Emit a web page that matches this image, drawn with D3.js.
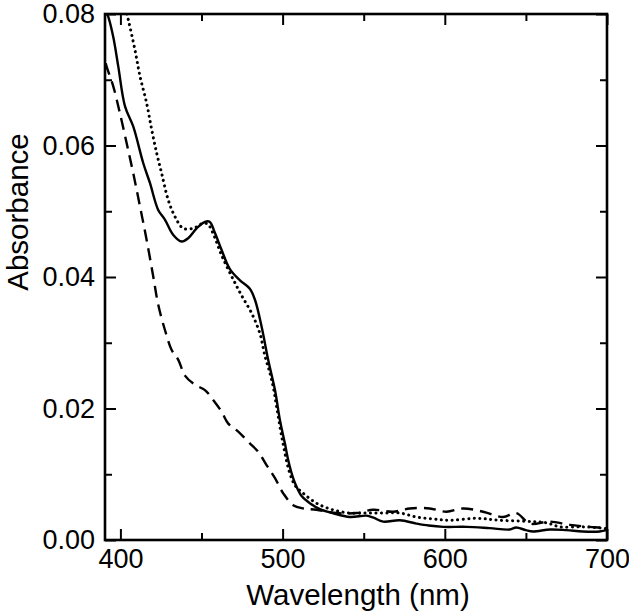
<!DOCTYPE html>
<html>
<head>
<meta charset="utf-8">
<script src="https://cdn.jsdelivr.net/npm/d3@7"></script>
<style>
  html, body { margin: 0; padding: 0; background: #fff; }
  svg { display: block; }
  text { font-family: "Liberation Sans", Arial, Helvetica, sans-serif; fill: #000; }
</style>
</head>
<body>
<svg id="chart" width="629" height="615"></svg>
<script>
// ---- data ----
const solidNm  = [391,392.5,395.6,398.7,402.8,407.9,414.1,418.2,423.3,427.5,432.6,437.8,441.8,447,452.1,455,458.3,462.4,467.5,473.7,479.8,483,487,491.1,495.3,498.3,501.4,503.4,506.5,508.6,512,516.8,523,530.8,541.5,551.7,556,562,572.3,582.5,590,599,613.4,627.7,640,644,650,654.4,665,675,685,695.5,700];
const solidAbs = [0.0805,0.0796,0.0765,0.0720,0.0660,0.0629,0.0573,0.0543,0.0502,0.0487,0.0464,0.0454,0.0459,0.0474,0.0484,0.0484,0.0467,0.0441,0.0412,0.0395,0.0382,0.0365,0.0325,0.0274,0.0228,0.0183,0.0147,0.0122,0.0094,0.0081,0.0066,0.0056,0.0047,0.0041,0.0035,0.0037,0.0034,0.0028,0.0030,0.0025,0.0022,0.0020,0.0020,0.0018,0.0016,0.0019,0.0015,0.0013,0.0016,0.0015,0.0013,0.0013,0.0015];

const dottedNm  = [404,404.9,409,412.1,416.2,419.3,422.4,425.4,429.5,433.6,438.7,444.9,451.1,454,457.2,462.4,469.6,474.7,480.9,486,489.1,492.2,494.2,496.3,500,504.5,508,512.7,520.9,530.8,541.5,551.7,562,572.3,582.5,593,603,619.5,633.9,654.4,663,670.9,685,697.5,700];
const dottedAbs = [0.0800,0.0791,0.0745,0.0705,0.0664,0.0624,0.0588,0.0558,0.0517,0.0492,0.0474,0.0474,0.0482,0.0480,0.0466,0.0433,0.0396,0.0372,0.0345,0.0314,0.0280,0.0254,0.0233,0.0203,0.0150,0.0101,0.0082,0.0071,0.0056,0.0046,0.0041,0.0041,0.0041,0.0041,0.0035,0.0032,0.0030,0.0033,0.0030,0.0028,0.0026,0.0020,0.0020,0.0018,0.0017];

const dashedNm  = [391,391.5,395.6,399.7,403.9,407.9,412.1,416.2,420.3,423.3,427.5,431.6,435.7,439.8,446,452.1,457.2,462.4,466.5,471.6,474.7,479.8,485,490.1,495.3,500.4,506.5,512.7,520.9,533.3,545.6,555.8,568.1,578.4,590.7,601,611.3,623.6,635.9,644.1,652.4,664.7,677,689.3,697.5,700];
const dashedAbs = [0.0725,0.0720,0.0690,0.0649,0.0603,0.0558,0.0507,0.0456,0.0400,0.0358,0.0319,0.0289,0.0274,0.0250,0.0236,0.0228,0.0213,0.0195,0.0177,0.0167,0.0160,0.0147,0.0134,0.0114,0.0094,0.0071,0.0053,0.0048,0.0046,0.0041,0.0041,0.0046,0.0043,0.0048,0.0048,0.0043,0.0048,0.0043,0.0035,0.0041,0.0025,0.0028,0.0023,0.0020,0.0018,0.0016];

const xMajorTicks = [400, 500, 600, 700];
const xMinorTicks = [450, 550, 650];
const yMajorTicks = [0, 0.02, 0.04, 0.06, 0.08];
const yMinorTicks = [0.01, 0.03, 0.05, 0.07];
const xTitle = "Wavelength (nm)";
const yTitle = "Absorbance";

// ---- layout ----
const L = 105, R = 607, T = 14, B = 540;
const svg = d3.select("#chart");
const x = d3.scaleLinear().domain([390.5, 700]).range([L, R]);
const y = d3.scaleLinear().domain([0, 0.08]).range([B, T]);

svg.append("clipPath").attr("id", "clip")
  .append("rect").attr("x", L).attr("y", T).attr("width", R - L).attr("height", B - T);

const line = d3.line().x(d => x(d[0])).y(d => y(d[1])).curve(d3.curveCatmullRom.alpha(0.5));
const series = [
  { nm: dashedNm, a: dashedAbs, dash: "12,7", cap: "butt", w: 2.4 },
  { nm: dottedNm, a: dottedAbs, dash: "0.1,5.4", cap: "round", w: 3 },
  { nm: solidNm,  a: solidAbs,  dash: null, cap: "round", w: 2.4 }
];
const g = svg.append("g").attr("clip-path", "url(#clip)");
series.forEach(s => {
  const pts = s.nm.map((v, i) => [v, s.a[i]]);
  g.append("path").datum(pts)
    .attr("d", line)
    .attr("fill", "none")
    .attr("stroke", "#000")
    .attr("stroke-width", s.w)
    .attr("stroke-linecap", s.cap)
    .attr("stroke-linejoin", "round")
    .attr("stroke-dasharray", s.dash);
});

function styleAxis(sel) {
  sel.select(".domain").remove();
  sel.selectAll("line").attr("stroke", "#000").attr("stroke-width", 2);
  sel.selectAll("text").style("font-size", "27px").attr("fill", "#000")
     .style("font-family", "'Liberation Sans', Arial, Helvetica, sans-serif");
}

// bottom
svg.append("g").attr("transform", `translate(0,${B})`)
  .call(d3.axisBottom(x).tickValues(xMajorTicks).tickSize(-11).tickPadding(9).tickFormat(d3.format("d")))
  .call(styleAxis);
svg.append("g").attr("transform", `translate(0,${B})`)
  .call(d3.axisBottom(x).tickValues(xMinorTicks).tickSize(-7).tickFormat(""))
  .call(styleAxis);
// top
svg.append("g").attr("transform", `translate(0,${T})`)
  .call(d3.axisTop(x).tickValues(xMajorTicks).tickSize(-11).tickFormat(""))
  .call(styleAxis);
svg.append("g").attr("transform", `translate(0,${T})`)
  .call(d3.axisTop(x).tickValues(xMinorTicks).tickSize(-7).tickFormat(""))
  .call(styleAxis);
// left
svg.append("g").attr("transform", `translate(${L},0)`)
  .call(d3.axisLeft(y).tickValues(yMajorTicks).tickSize(-11).tickPadding(10).tickFormat(d3.format(".2f")))
  .call(styleAxis);
svg.append("g").attr("transform", `translate(${L},0)`)
  .call(d3.axisLeft(y).tickValues(yMinorTicks).tickSize(-7).tickFormat(""))
  .call(styleAxis);
// right
svg.append("g").attr("transform", `translate(${R},0)`)
  .call(d3.axisRight(y).tickValues(yMajorTicks).tickSize(-11).tickFormat(""))
  .call(styleAxis);
svg.append("g").attr("transform", `translate(${R},0)`)
  .call(d3.axisRight(y).tickValues(yMinorTicks).tickSize(-7).tickFormat(""))
  .call(styleAxis);

// frame
svg.append("rect").attr("x", L).attr("y", T).attr("width", R - L).attr("height", B - T)
  .attr("fill", "none").attr("stroke", "#000").attr("stroke-width", 2.6);

// titles
svg.append("text").attr("x", 358).attr("y", 605)
  .attr("text-anchor", "middle").style("font-size", "29.5px").text(xTitle);
svg.append("text").attr("transform", `translate(27.5,212) rotate(-90)`)
  .attr("text-anchor", "middle").style("font-size", "29.5px").text(yTitle);
</script>
</body>
</html>
